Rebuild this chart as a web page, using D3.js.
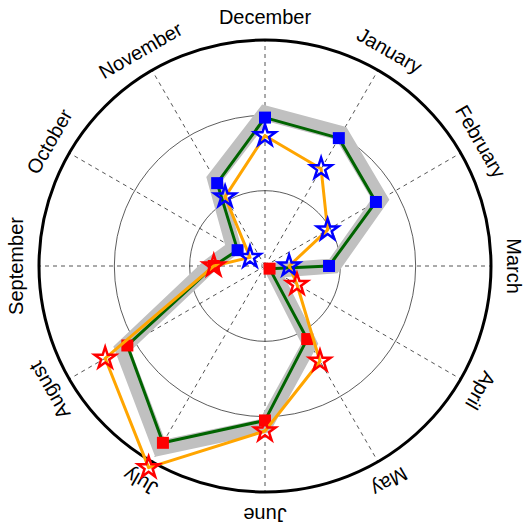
<!DOCTYPE html>
<html><head><meta charset="utf-8">
<script src="https://cdn.jsdelivr.net/npm/d3@7"></script>
<style>html,body{margin:0;padding:0;background:#fff;}</style>
</head><body>
<svg id="c" width="524" height="523"></svg>
<script>
const months = ["December","January","February","March","April","May","June","July","August","September","October","November"];
const seasons = ["winter","winter","winter","winter","summer","summer","summer","summer","summer","summer","winter","winter"];
const greenValues = [1.97,1.96,1.70,0.85,0.07,1.12,2.05,2.71,2.11,0.68,0.42,1.27];
const greyValues  = [2.03,2.03,1.77,0.91,0.12,1.19,2.12,2.79,2.19,0.74,0.48,1.34];
const orangeValues= [1.73,1.49,0.96,0.32,0.49,1.46,2.19,3.09,2.45,0.68,0.23,1.06];
const ringTicks = [1,2];
const rMax = 3;

const cx = 265, cy = 266, R = 226;
const svg = d3.select("#c");
const g = svg.append("g").attr("transform",`translate(${cx},${cy})`);
const r = d3.scaleLinear().domain([0,rMax]).range([0,R]);
const ang = d3.scaleLinear().domain([0,months.length]).range([0,2*Math.PI]);
const seasonColor = d3.scaleOrdinal().domain(["winter","summer"]).range(["#0000ff","#ff0000"]);

// spokes
g.selectAll("line.spoke").data(months).join("line")
  .attr("x1",0).attr("y1",0)
  .attr("x2",(d,i)=>r(rMax)*Math.sin(ang(i)))
  .attr("y2",(d,i)=>-r(rMax)*Math.cos(ang(i)))
  .attr("stroke","#555").attr("stroke-width",1).attr("stroke-dasharray","4,4");
// rings
g.selectAll("circle.ring").data(ringTicks).join("circle")
  .attr("r",d=>r(d)).attr("fill","none").attr("stroke","#333").attr("stroke-width",0.8);
g.append("circle").attr("r",r(rMax)).attr("fill","none").attr("stroke","#000").attr("stroke-width",3);

// labels
g.selectAll("text.lab").data(months).join("text")
  .attr("transform",(d,i)=>{const a=ang(i), rr=R+16;return `translate(${rr*Math.sin(a)},${-rr*Math.cos(a)}) rotate(${a*180/Math.PI})`;})
  .attr("text-anchor","middle")
  .attr("font-family","Liberation Sans, Arial, sans-serif").attr("font-size",20)
  .text(d=>d);

const line = d3.lineRadial().angle((d,i)=>ang(i)).radius(d=>r(d)).curve(d3.curveLinearClosed);
g.append("path").attr("d",line(greyValues)).attr("fill","none").attr("stroke","#c0c0c0").attr("stroke-width",15).attr("stroke-linejoin","miter");
g.append("path").attr("d",line(greenValues)).attr("fill","none").attr("stroke","#006400").attr("stroke-width",3).attr("stroke-linejoin","round");
g.selectAll("path.sq").data(greenValues).join("path")
  .attr("d",d3.symbol(d3.symbolSquare,144))
  .attr("transform",(d,i)=>`translate(${r(d)*Math.sin(ang(i))},${-r(d)*Math.cos(ang(i))})`)
  .attr("fill",(d,i)=>seasonColor(seasons[i]));
g.append("path").attr("d",line(orangeValues)).attr("fill","none").attr("stroke","#ffa500").attr("stroke-width",3).attr("stroke-linejoin","round");
g.selectAll("path.st").data(orangeValues).join("path")
  .attr("d",d3.symbol(d3.symbolStar,140))
  .attr("transform",(d,i)=>`translate(${r(d)*Math.sin(ang(i))},${-r(d)*Math.cos(ang(i))})`)
  .attr("fill","none").attr("stroke",(d,i)=>seasonColor(seasons[i])).attr("stroke-width",2.5);
</script>
</body></html>
